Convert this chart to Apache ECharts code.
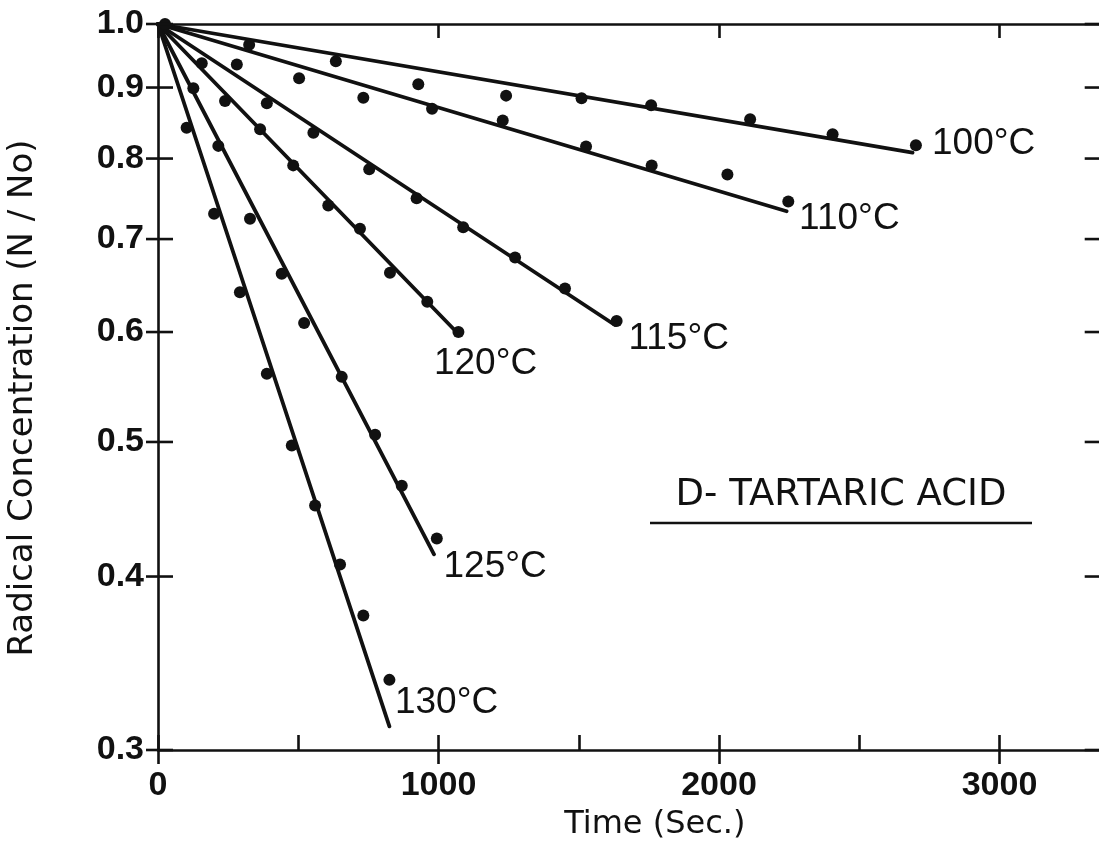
<!DOCTYPE html>
<html>
<head>
<meta charset="utf-8">
<title>D-Tartaric Acid radical decay</title>
<script src="https://cdn.jsdelivr.net/npm/echarts@6/dist/echarts.min.js"></script>
<style>
  html, body { margin: 0; padding: 0; background: #fff; }
  #chart { width: 1099px; height: 861px; }
</style>
</head>
<body>
<div id="chart"></div>
<script>
// Temperatures of the isothermal decay runs
const temperatures = ['100°C', '110°C', '115°C', '120°C', '125°C', '130°C'];

// Measured radical concentration N/No against time (s)
const time100 = [25, 325, 634, 928, 1241, 1510, 1758, 2111, 2405, 2702];
const conc100 = [1.0, 0.966, 0.940, 0.905, 0.888, 0.884, 0.874, 0.854, 0.833, 0.818];

const time110 = [281, 503, 732, 977, 1229, 1526, 1760, 2030, 2247];
const conc110 = [0.935, 0.914, 0.885, 0.869, 0.852, 0.816, 0.791, 0.779, 0.745];

const time115 = [388, 554, 753, 922, 1088, 1273, 1451, 1635];
const conc115 = [0.877, 0.835, 0.786, 0.749, 0.714, 0.679, 0.645, 0.611];

const time120 = [156, 239, 364, 482, 607, 720, 827, 960, 1071];
const conc120 = [0.937, 0.880, 0.840, 0.791, 0.740, 0.712, 0.662, 0.631, 0.600];

const time125 = [126, 215, 328, 441, 521, 655, 774, 869, 994];
const conc125 = [0.899, 0.817, 0.724, 0.661, 0.609, 0.557, 0.506, 0.465, 0.426];

const time130 = [102, 200, 292, 388, 477, 560, 649, 732, 825];
const conc130 = [0.842, 0.730, 0.641, 0.560, 0.497, 0.450, 0.408, 0.375, 0.337];

// First-order fit lines: all start at N/No = 1 at t = 0
const fitStartTime = 0;
const fitStartConc = 1.0;
const fitEndTime = [2690, 2241, 1629, 1071, 984, 825];
const fitEndConc = [0.808, 0.733, 0.607, 0.598, 0.415, 0.312];

// Axis ticks
const yTickValues = [0.3, 0.4, 0.5, 0.6, 0.7, 0.8, 0.9, 1.0];
const yTickLabels = ['0.3', '0.4', '0.5', '0.6', '0.7', '0.8', '0.9', '1.0'];
const xLabelValues = [0, 1000, 2000, 3000];
const xMin = 0;
const xMax = 3400;

const measuredTimes = [time100, time110, time115, time120, time125, time130];
const measuredConcs = [conc100, conc110, conc115, conc120, conc125, conc130];

// Placement of each temperature tag relative to the end of its fit line
const tagOffsets = [[19, -9], [12, 7], [13, 14], [-25, 30], [9, 12], [5, -24]];

const INK = '#111111';
const AXIS_W = 2.6;

const series = [];

temperatures.forEach((name, i) => {
  series.push({
    type: 'line',
    name: name + ' fit',
    data: [[fitStartTime, fitStartConc], [fitEndTime[i], fitEndConc[i]]],
    symbol: 'none',
    lineStyle: { color: INK, width: 3.8, cap: 'round' },
    silent: true,
    z: 2
  });
  series.push({
    type: 'scatter',
    name: name,
    data: measuredTimes[i].map((t, k) => [t, measuredConcs[i][k]]),
    symbol: 'circle',
    symbolSize: 12,
    itemStyle: { color: INK, opacity: 1 },
    z: 3
  });
});

// Temperature tags anchored at the end of every fit line
series.push({
  type: 'scatter',
  name: 'tags',
  silent: true,
  symbol: 'circle',
  symbolSize: 1,
  itemStyle: { color: 'rgba(0,0,0,0)', opacity: 1 },
  z: 4,
  data: temperatures.map((name, i) => ({
    value: [fitEndTime[i], fitEndConc[i]],
    label: {
      show: true,
      formatter: name,
      position: 'right',
      distance: 0,
      offset: tagOffsets[i],
      align: 'left',
      verticalAlign: 'middle',
      color: INK,
      opacity: 1,
      fontSize: 37,
      fontFamily: '"Liberation Sans", Arial, sans-serif'
    }
  }))
});

// Ticks and labels of the logarithmic concentration axis (left and right frame)
series.push({
  type: 'custom',
  name: 'y ticks',
  coordinateSystem: 'cartesian2d',
  clip: false,
  silent: true,
  z: 5,
  data: yTickValues.map(v => [xMin, v]),
  renderItem: function (params, api) {
    const v = api.value(1);
    const left = api.coord([xMin, v]);
    const right = api.coord([xMax, v]);
    return {
      type: 'group',
      children: [
        {
          type: 'line',
          shape: { x1: left[0] - 12, y1: left[1], x2: left[0] + 15, y2: left[1] },
          style: { stroke: INK, lineWidth: AXIS_W }
        },
        {
          type: 'line',
          shape: { x1: right[0] - 27, y1: right[1], x2: right[0], y2: right[1] },
          style: { stroke: INK, lineWidth: AXIS_W }
        },
        {
          type: 'text',
          x: left[0] - 14,
          y: left[1],
          style: {
            text: yTickLabels[params.dataIndex],
            align: 'right',
            verticalAlign: 'middle',
            textAlign: 'right',
            textVerticalAlign: 'middle',
            fill: INK,
            fontSize: 34,
            fontWeight: 'bold',
            fontFamily: '"Liberation Sans", Arial, sans-serif'
          }
        }
      ]
    };
  }
});

const chart = echarts.init(document.getElementById('chart'), null, { renderer: 'canvas' });

chart.setOption({
  animation: false,
  backgroundColor: '#ffffff',
  grid: {
    left: 158,
    top: 24,
    bottom: 111,
    width: 953.7,
    containLabel: false,
    outerBoundsMode: 'none'
  },
  xAxis: [
    {
      type: 'value',
      position: 'bottom',
      min: xMin,
      max: xMax,
      interval: 500,
      name: 'Time (Sec.)',
      nameLocation: 'middle',
      nameGap: 59,
      nameTextStyle: {
        color: INK,
        fontSize: 32,
        fontFamily: '"DejaVu Sans", sans-serif',
        padding: [0, 0, 0, 40]
      },
      axisLine: { show: true, lineStyle: { color: INK, width: AXIS_W } },
      axisTick: { show: true, inside: true, length: 15, lineStyle: { color: INK, width: AXIS_W } },
      axisLabel: {
        show: true,
        margin: 19,
        color: INK,
        fontSize: 34,
        fontWeight: 'bold',
        fontFamily: '"Liberation Sans", Arial, sans-serif',
        showMaxLabel: false,
        formatter: v => (xLabelValues.indexOf(v) >= 0 ? String(v) : '')
      },
      splitLine: { show: false }
    },
    {
      type: 'value',
      position: 'bottom',
      offset: 0,
      min: xMin,
      max: xMax,
      interval: 1000,
      axisLine: { show: false },
      axisTick: { show: true, inside: false, length: 14, lineStyle: { color: INK, width: AXIS_W } },
      axisLabel: { show: false },
      splitLine: { show: false }
    },
    {
      type: 'value',
      position: 'top',
      min: xMin,
      max: xMax,
      interval: 1000,
      axisLine: { show: true, lineStyle: { color: INK, width: AXIS_W } },
      axisTick: { show: true, inside: true, length: 14, lineStyle: { color: INK, width: AXIS_W } },
      axisLabel: { show: false },
      splitLine: { show: false }
    }
  ],
  yAxis: {
    type: 'log',
    logBase: 10,
    min: 0.3,
    max: 1.0,
    name: 'Radical Concentration (N / No)',
    nameLocation: 'middle',
    nameRotate: 90,
    nameGap: 118,
    nameTextStyle: {
      color: INK,
      fontSize: 34,
      fontFamily: '"DejaVu Sans", sans-serif',
      padding: [0, 22, 0, 0]
    },
    axisLine: { show: true, lineStyle: { color: INK, width: AXIS_W } },
    axisTick: { show: false },
    minorTick: { show: false },
    axisLabel: { show: false },
    splitLine: { show: false }
  },
  graphic: [
    {
      type: 'text',
      x: 841,
      y: 495,
      style: {
        text: 'D- TARTARIC ACID',
        align: 'center',
        verticalAlign: 'middle',
        textAlign: 'center',
        textVerticalAlign: 'middle',
        fill: INK,
        fontSize: 37,
        fontFamily: '"DejaVu Sans", sans-serif'
      }
    },
    {
      type: 'line',
      shape: { x1: 650, y1: 523, x2: 1032, y2: 523 },
      style: { stroke: INK, lineWidth: 2.5 }
    }
  ],
  series: series
});
</script>
</body>
</html>
